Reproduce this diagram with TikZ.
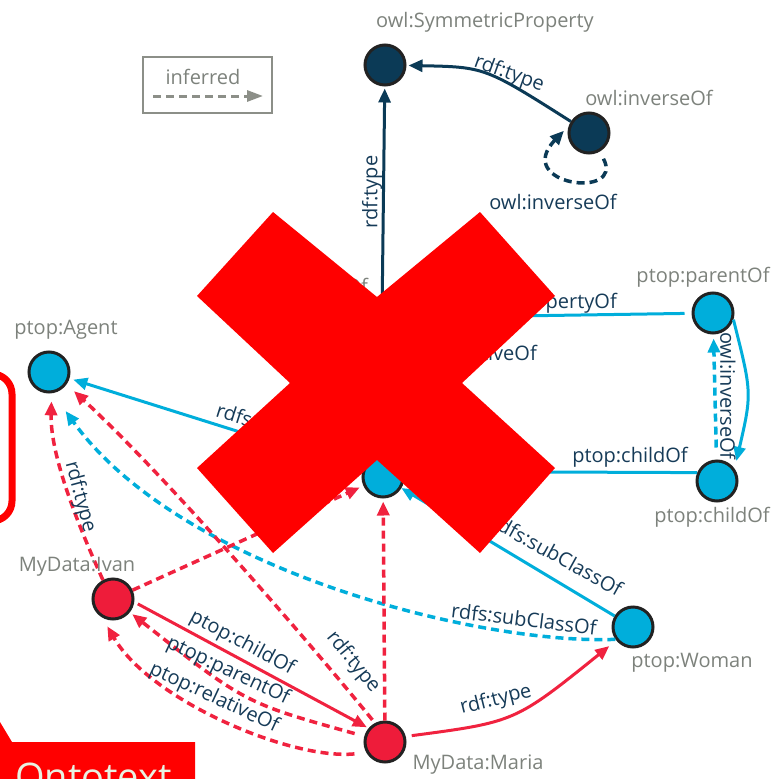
\documentclass[tikz,border=0pt]{standalone}
\usepackage{fontspec}
\setmainfont{Open Sans}
\usetikzlibrary{arrows.meta}
\definecolor{navy}{HTML}{0B3A56}
\definecolor{cyanb}{HTML}{00AEDB}
\definecolor{redfill}{HTML}{EE1C3A}
\definecolor{rede}{HTML}{F0223F}
\definecolor{ringc}{HTML}{222222}
\definecolor{grayt}{HTML}{7D827C}
\definecolor{labt}{HTML}{163B58}
\definecolor{xred}{HTML}{FF0000}
\definecolor{ontot}{HTML}{E8F2E2}
\definecolor{legc}{HTML}{8C8F88}
\newcommand\myfs{\fontsize{20}{24}\selectfont}
\tikzset{
  vnode/.style={circle, draw=ringc, line width=3pt, minimum size=40pt, inner sep=0pt},
  navynode/.style={vnode, fill=navy},
  bluenode/.style={vnode, fill=cyanb},
  rednode/.style={vnode, fill=redfill},
  glab/.style={text=grayt, font=\myfs, inner sep=0pt},
  elab/.style={text=labt, font=\myfs, inner sep=0pt},
  arr/.style={-{Triangle[length=14pt,width=12pt]}},
  navyline/.style={draw=navy, line width=3pt, arr},
  blueline/.style={draw=cyanb, line width=3pt, arr},
  redline/.style={draw=rede, line width=3pt, arr},
  infer/.style={dash pattern=on 8pt off 5pt, line width=3.5pt},
}
\begin{document}
\begin{tikzpicture}[x=1pt,y=-1pt]
\useasboundingbox (0,0) rectangle (774,779);
% nodes
\node[navynode] (sym) at (385,65) {};
\node[navynode] (inv) at (589,133) {};
\node[bluenode] (rel) at (382,318) {};
\node[bluenode] (par) at (713,313) {};
\node[bluenode] (chi) at (717,481) {};
\node[bluenode] (agent) at (49,372) {};
\node[bluenode] (person) at (383,477) {};
\node[bluenode] (woman) at (633,627) {};
\node[rednode] (ivan) at (113,599) {};
\node[rednode] (maria) at (385,742) {};
% navy edges
\draw[navyline, shorten >=2pt] (inv) .. controls (485,67) .. (sym);
\draw[navyline, infer, shorten <=8pt, shorten >=7pt] (inv.-60) .. controls (625,200) and (512,185) .. (inv.160);
\draw[navyline, shorten >=2pt] (rel) -- (sym);
% blue edges
\draw[blueline, shorten <=7pt] (par) -- (rel);
\draw[blueline] (chi.157) -- (person.15);
\draw[blueline, shorten >=8pt] (par.-18) .. controls (752,393) .. (chi.35);
\draw[blueline, infer, shorten <=12pt, shorten >=4pt] (chi) -- (par);
\draw[blueline, shorten >=4pt] (person) -- (agent);
\draw[blueline] (woman) -- (person);
\draw[blueline, infer, shorten >=22pt] (woman.215) .. controls (480,645) and (180,570) .. (agent.-80);
% red edges
\draw[redline, shorten <=4pt, shorten >=2pt] (ivan.-8) -- (maria.140);
\draw[redline, infer, shorten <=10pt, shorten >=3pt] (maria) .. controls (245,703) .. (ivan);
\draw[redline, infer, shorten <=12pt, shorten >=10pt] (maria.210) .. controls (290,760) and (150,700) .. (ivan.-120);
\draw[redline, infer, shorten <=4pt, shorten >=10pt] (maria.118) .. controls (320,655) and (170,480) .. (agent.-35);
\draw[redline, infer, shorten >=8pt] (ivan.118) .. controls (85,540) and (50,460) .. (agent.-83);
\draw[redline, infer, shorten >=4pt] (ivan) -- (person);
\draw[redline, infer, shorten >=3pt] (maria) -- (person);
\draw[redline, shorten <=6pt, shorten >=9pt] (maria.15) .. controls (515,722) .. (woman);
% node labels
\node[glab] (lsym) at (485,22) {owl:SymmetricProperty};
\node[glab] (linv) at (649,98) {owl:inverseOf};
\node[glab, anchor=east] (lrel) at (368,288) {ptop:relativeOf};
\node[glab] (lpar) at (703,277) {ptop:parentOf};
\node[glab] (lchi) at (712,517) {ptop:childOf};
\node[glab] (lagent) at (66,330) {ptop:Agent};
\node[glab] (lwoman) at (692,663) {ptop:Woman};
\node[glab] (livan) at (77,567) {MyData:Ivan};
\node[glab] (lmaria) at (478,765) {MyData:Maria};
% edge labels
\node[elab, rotate=90] (lt1) at (372,192) {rdf:type};
\node[elab, rotate=-20] (lt2) at (509,74) {rdf:type};
\node[elab] (linv2) at (553,202) {owl:inverseOf};
\node[elab, anchor=east] (lsubp) at (617,303) {rdfs:subPropertyOf};
\node[elab, anchor=east] (lrel2) at (537,355) {ptop:relativeOf};
\node[elab] (lchi2) at (630,457) {ptop:childOf};
\node[elab, rotate=-90] (linv3) at (728,396) {owl:inverseOf};
\node[elab, rotate=-17.5, anchor=west] (lsub1) at (217,409) {rdfs:subClassOf};
\node[elab, rotate=-29] (lsub2) at (557,555) {rdfs:subClassOf};
\node[elab, rotate=-7] (lsub3) at (524,619) {rdfs:subClassOf};
\node[elab, rotate=-28] (lchio) at (242,643) {ptop:childOf};
\node[elab, rotate=-25] (lparo) at (228,671) {ptop:parentOf};
\node[elab, rotate=-25] (lrelo) at (214,698) {ptop:relativeOf};
\node[elab, rotate=-51] (lt3) at (353,662) {rdf:type};
\node[elab, rotate=-75] (lt4) at (80,497) {rdf:type};
\node[elab, rotate=14] (lt5) at (496,700) {rdf:type};
% legend
\node[draw=legc, line width=1.5pt, minimum width=129pt, minimum height=56pt, inner sep=0pt] (legend) at (207.5,85) {};
\node[glab] (linf) at (203,77) {inferred};
\coordinate (la) at (153,96);
\coordinate (lb) at (263,96);
\draw[draw=legc, line width=3pt, dash pattern=on 8pt off 5pt, -{Triangle[length=16pt,width=11pt]}] (la) -- (lb);
% overlays
\fill[xred] (273,212) -- (377,297) -- (480,212) -- (555,296) -- (462,383) -- (555,468) -- (480,553) -- (377,460) -- (273,553) -- (197,468) -- (290,383) -- (197,296) -- cycle;
\draw[xred, line width=7pt, rounded corners=20pt] (-60,374) rectangle (12,521);
\fill[xred] (0,722) -- (12,742) -- (195,742) -- (195,800) -- (0,800) -- cycle;
\node[text=ontot, font=\fontsize{38}{40}\selectfont, anchor=base west, inner sep=0pt] (onto) at (15,790) {Ontotext};
\end{tikzpicture}
\end{document}
